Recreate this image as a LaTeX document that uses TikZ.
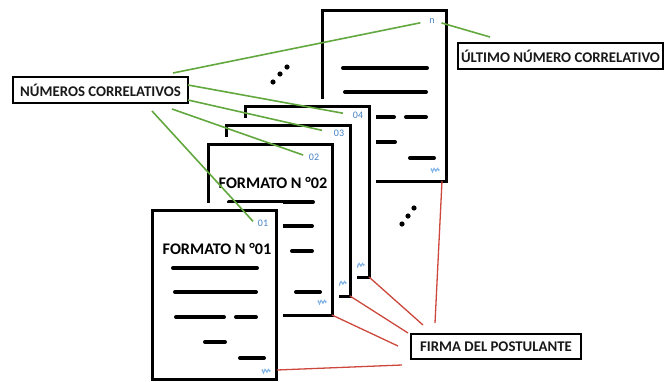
\documentclass[tikz,border=0pt]{standalone}
\usepackage{fontspec}
\setmainfont{Carlito}
\usetikzlibrary{calc}
\definecolor{cgreen}{RGB}{98,168,62}
\definecolor{cred}{RGB}{204,72,60}
\definecolor{cblue}{RGB}{70,130,195}
\definecolor{csig}{RGB}{130,180,230}
\tikzset{
 sheet/.style={draw=black, fill=white, line width=3pt, minimum width=124pt, minimum height=171pt,
   anchor=north west, inner sep=0pt, outer sep=0pt, preaction={draw=white, line width=14pt}},
 bar/.style={line width=4pt, line cap=round},
 num/.style={text=cblue, font=\fontsize{10}{10}\selectfont, inner sep=0pt},
 title/.style={font=\bfseries\fontsize{16.2}{16.2}\selectfont, inner sep=0pt},
 callout/.style={draw=black, line width=1.5pt, fill=white, font=\bfseries\fontsize{14.8}{14.8}\selectfont,
   inner sep=0pt, text=black!90},
 gline/.style={draw=cgreen, line width=1.6pt},
 rline/.style={draw=cred, line width=1.3pt},
 sig/.pic={\draw[csig, line width=0.9pt, line join=round] (-4,-2) -- (-2.5,2.5) -- (-1,-2) -- (1,1.5) -- (2.5,-2) -- (4,1);
           \draw[csig, line width=0.7pt] (-4.5,0) -- (4.5,-0.5);}
}
\newcommand\pagebars[1]{%
 \begin{scope}[shift={(#1.north west)}]
  \draw[bar] (21,58) -- (105,58);
  \draw[bar] (23,82) -- (104,82);
  \draw[bar] (24,107) -- (72,107);
  \draw[bar] (84,107) -- (104,107);
  \draw[bar] (53,132) -- (73,132);
  \draw[bar] (88,148) -- (112,148);
 \end{scope}}
\begin{document}
\begin{tikzpicture}[x=1pt,y=-1pt]
\useasboundingbox (0,0) rectangle (664,381);
% last page
\node[sheet] (pn) at (322,10) {};
\pagebars{pn}
\node[num] (ln) at (432,21) {n};
\pic at (435,170) {sig};
% page 04
\node[sheet] (p4) at (245,106) {};
\node[num] (l4) at (358,115) {04};
\pic at (360,265) {sig};
% page 03
\node[sheet] (p3) at (226,125) {};
\node[num] (l3) at (339,133) {03};
\pic at (342,283) {sig};
% page 02
\node[sheet] (p2) at (208,144) {};
\pagebars{p2}
\node[num] (l2) at (314,157) {02};
\node[title] (t2) at (273,183) {FORMATO N °02};
\pic at (322,302) {sig};
% page 01
\node[sheet, minimum height=169pt] (p1) at (152,210) {};
\pagebars{p1}
\node[num] (l1) at (263,223) {01};
\node[title] (t1) at (217,249) {FORMATO N °01};
\pic at (266,371) {sig};
% ellipsis dots
\foreach \p in {(273,82),(280,74),(287,67),(402,224),(408,216),(414,208)}
  \fill \p circle (2.6);
% callouts
\node[callout, minimum width=175pt, minimum height=26pt] (nc) at (100.5,90) {NÚMEROS CORRELATIVOS};
\node[callout, minimum width=205pt, minimum height=26pt] (unc) at (560.5,56) {ÚLTIMO NÚMERO CORRELATIVO};
\node[callout, minimum width=170pt, minimum height=25pt] (fp) at (496,346.5) {FIRMA DEL POSTULANTE};
% green connectors
\coordinate (gn) at (173,73);
\coordinate (g4) at (188,85);
\coordinate (g3) at (188,100);
\coordinate (g2) at (172,109);
\coordinate (g1) at (152,111);
\coordinate (gu) at (490,37);
\draw[gline, shorten >=9pt] (gn) -- (ln.west);
\draw[gline, shorten >=10pt] (g4) -- (l4.west);
\draw[gline, shorten >=12pt] (g3) -- (l3.west);
\draw[gline, shorten >=6pt] (g2) -- (l2.west);
\draw[gline, shorten >=7pt] (g1) -- (l1.south west);
\draw[gline, shorten <=7pt] (ln.east) -- (gu);
% red connectors
\coordinate (rn) at (435,323);
\coordinate (r4) at (423,325);
\coordinate (r3) at (408,333);
\coordinate (r2) at (398,346);
\coordinate (r1) at (402,365);
\draw[rline] ($(pn.south east)+(-4,0)$) -- (rn);
\draw[rline] (p4.south east) -- (r4);
\draw[rline] (p3.south east) -- (r3);
\draw[rline] (p2.south east) -- (r2);
\draw[rline] ($(p1.south east)+(1,-9)$) -- (r1);
\end{tikzpicture}
\end{document}
